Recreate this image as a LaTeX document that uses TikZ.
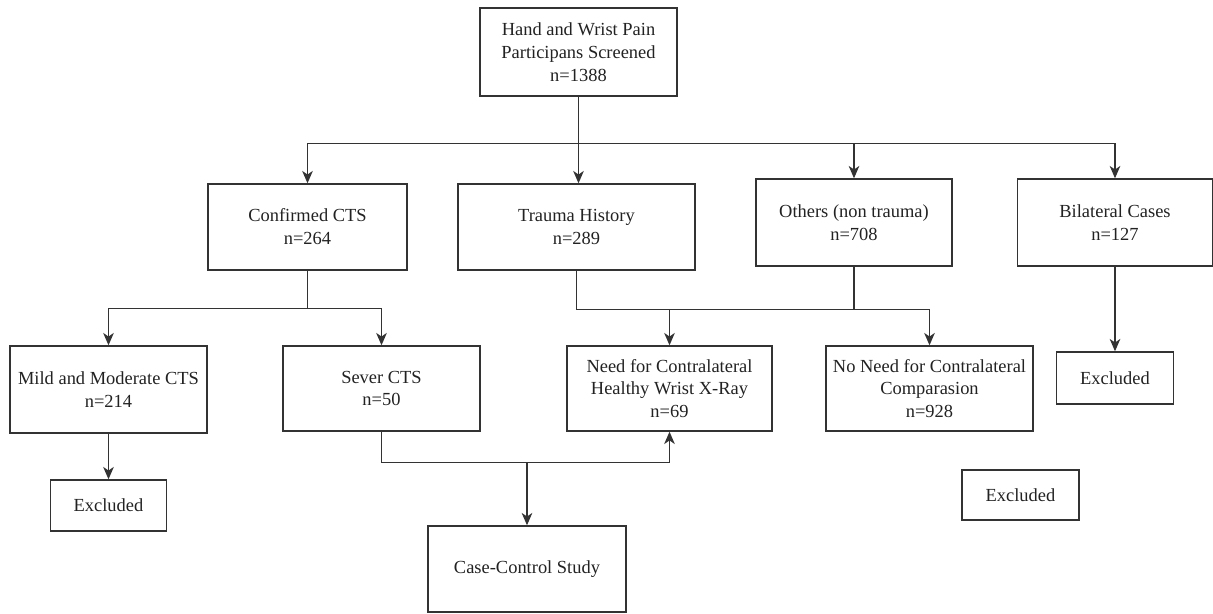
\documentclass[tikz,border=0pt]{standalone}
\usepackage{fontspec}
\setmainfont{Liberation Serif}
\usetikzlibrary{arrows.meta}
\definecolor{linegray}{HTML}{333333}
\definecolor{textgray}{HTML}{222222}
\tikzset{
	box/.style={draw=linegray, line width=0.8pt, text=textgray, align=center, inner sep=0pt,
		font=\fontsize{10.5}{13}\selectfont},
	wire/.style={draw=linegray, line width=0.8pt},
	arr/.style={wire, -{Stealth[length=7pt, width=6pt, inset=2pt]}}
}

\begin{document}
\begin{tikzpicture}[x=0.02cm, y=-0.02cm]
				\useasboundingbox (0,0) rectangle (1213,614);
				% Boxes:
				\node[box, minimum width=3.94cm, minimum height=1.76cm] (screen) at (578.5, 52) {Hand and Wrist Pain\\Participans Screened\\n=1388};
				\node[box, minimum width=3.98cm, minimum height=1.72cm] (cts) at (307.5, 227) {Confirmed CTS\\n=264};
				\node[box, minimum width=4.74cm, minimum height=1.72cm] (trauma) at (576.5, 227) {Trauma History\\n=289};
				\node[box, minimum width=3.92cm, minimum height=1.74cm] (others) at (854, 222.5) {Others (non trauma)\\n=708};
				\node[box, minimum width=3.90cm, minimum height=1.74cm] (bilat) at (1115, 222.5) {Bilateral Cases\\n=127};
				\node[box, minimum width=3.94cm, minimum height=1.74cm] (mild) at (108.5, 389.5) {Mild and Moderate CTS\\n=214};
				\node[box, minimum width=3.94cm, minimum height=1.70cm] (severe) at (381.5, 388.5) {Sever CTS\\n=50};
				\node[box, minimum width=4.10cm, minimum height=1.70cm] (need) at (669.5, 388.5) {Need for Contralateral\\Healthy Wrist X-Ray\\n=69};
				\node[box, minimum width=4.14cm, minimum height=1.70cm] (noneed) at (929.5, 388.5) {No Need for Contralateral\\Comparasion\\n=928};
				\node[box, minimum width=2.32cm, minimum height=1.02cm] (exclA) at (108.5, 505.5) {Excluded};
				\node[box, minimum width=3.96cm, minimum height=1.72cm] (case) at (527, 569) {Case-Control Study};
				\node[box, minimum width=2.34cm, minimum height=1.00cm] (exclB) at (1020.5, 495) {Excluded};
				\node[box, minimum width=2.34cm, minimum height=1.04cm] (exclC) at (1115, 378) {Excluded};
				% Connectors:
				\path (screen.south) ++(0, 47) coordinate (split1);
				\path (cts.south) ++(0, 38) coordinate (split2);
				\path (trauma.south) ++(0, 39) coordinate (split3);
				\path (severe.south) ++(0, 31) coordinate (join);
				\draw[wire] (screen.south) -- (split1);
				\draw[arr] (split1) -| (cts.north);
				\draw[arr] (split1) -- (split1 |- trauma.north);
				\draw[arr] (split1) -| (others.north);
				\draw[arr] (split1) -| (bilat.north);
				\draw[wire] (cts.south) -- (split2);
				\draw[arr] (split2) -| (mild.north);
				\draw[arr] (split2) -| (severe.north);
				\draw[wire] (trauma.south) -- (split3);
				\draw[arr] (split3) -| (noneed.north);
				\draw[arr] (split3 -| need.north) -- (need.north);
				\draw[wire] (others.south) -- (others.south |- split3);
				\draw[arr] (mild.south) -- (exclA.north);
				\draw[arr] (bilat.south) -- (exclC.north);
				\draw[wire] (severe.south) -- (join);
				\draw[arr] (join) -| (need.south);
				\draw[arr] (join -| case.north) -- (case.north);
\end{tikzpicture}
\end{document}
